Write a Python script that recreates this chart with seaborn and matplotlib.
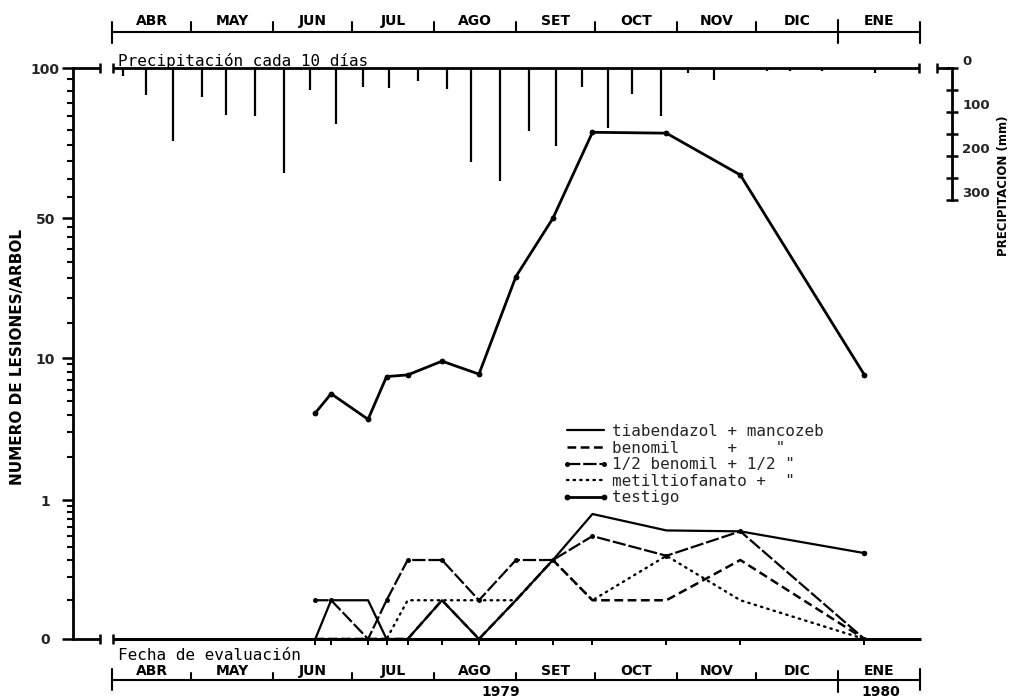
import numpy as np
import pandas as pd
import matplotlib
matplotlib.use("Agg")
import matplotlib.pyplot as plt
import matplotlib.dates as mdates
from matplotlib.lines import Line2D
import seaborn as sns

# ---------------- data ----------------
eval_dates = ['1979-06-17', '1979-06-23', '1979-07-07', '1979-07-14', '1979-07-22',
              '1979-08-04', '1979-08-18', '1979-09-01', '1979-09-15', '1979-09-30',
              '1979-10-28', '1979-11-25', '1980-01-11']
testigo = [4.1, 5.6, 3.7, 7.4, 7.6, 9.5, 7.7, 25.5, 49.8, 74.3, 74.0, 61.0, 7.6]
tiabendazol = [0, 0.1, 0.1, 0, 0, 0.1, 0, 0.1, 0.3, 0.77, 0.56, 0.55, 0.35]
benomil = [0, 0, 0, 0, 0, 0.1, 0, 0.1, 0.3, 0.1, 0.1, 0.3, 0]
medio_benomil = [0.1, 0.1, 0, 0.1, 0.3, 0.3, 0.1, 0.3, 0.3, 0.5, 0.33, 0.55, 0]
metiltiofanato = [0, 0, 0, 0, 0.1, 0.1, 0.1, 0.1, 0.3, 0.1, 0.33, 0.1, 0]

precip_dates = ['1979-04-05', '1979-04-14', '1979-04-24', '1979-05-05', '1979-05-14',
                '1979-05-25', '1979-06-05', '1979-06-15', '1979-06-25', '1979-07-05',
                '1979-07-15', '1979-07-26', '1979-08-06', '1979-08-15', '1979-08-26',
                '1979-09-06', '1979-09-16', '1979-09-26', '1979-10-06', '1979-10-15',
                '1979-10-26', '1979-11-05', '1979-11-15', '1979-12-05', '1979-12-14',
                '1979-12-26', '1980-01-15']
precip_mm = [18, 61, 166, 66, 107, 109, 239, 50, 127, 43, 45, 30, 48, 214, 257,
             143, 177, 43, 136, 59, 109, 11, 27, 7, 7, 7, 11]

month_labels = ['ABR', 'MAY', 'JUN', 'JUL', 'AGO', 'SET', 'OCT', 'NOV', 'DIC', 'ENE']
month_starts = ['1979-04-01', '1979-05-01', '1979-06-01', '1979-07-01', '1979-08-01',
                '1979-09-01', '1979-10-01', '1979-11-01', '1979-12-01', '1980-01-01',
                '1980-02-01']
y_major = [0, 1, 10, 50, 100]
y_minor = [0.1, 0.2, 0.3, 0.4, 0.5, 0.6, 0.7, 0.8, 0.9,
           2, 3, 4, 5, 6, 7, 8, 9,
           15, 20, 25, 30, 35, 40, 45,
           55, 60, 65, 70, 75, 80, 85, 90, 95]
precip_major = [0, 100, 200, 300]
precip_minor = [50, 150, 250]

legend_labels = ['tiabendazol + mancozeb',
                 'benomil     +    "',
                 '1/2 benomil + 1/2 "',
                 'metiltiofanato +  "',
                 'testigo']

# ---------------- style ----------------
sns.set_style("white")
plt.rcParams['font.family'] = ['DejaVu Sans']
MONO = ['DejaVu Sans Mono', 'DejaVu Sans']
K = 'black'

W, H = 1015, 699
fig = plt.figure(figsize=(W / 100, H / 100), dpi=100)


def fbox(x0, y0, x1, y1):
    """pixel box (top-left origin) -> figure fraction rect"""
    return [x0 / W, 1 - y1 / H, (x1 - x0) / W, (y1 - y0) / H]


D0 = mdates.date2num(pd.Timestamp('1979-04-01'))
PXD = 2.64          # pixels per day, Apr 1 at x=112


def px2num(px):
    return D0 + (px - 112) / PXD


# piecewise y scale: 0 | 1 | 10 | 50 | 100 equally spaced-ish
SEG_P = [0, 139, 281, 421, 571]


def fwd(v):
    v = np.asarray(v, dtype=float)
    with np.errstate(all='ignore'):
        vp = np.clip(v, 1e-9, None)
        a = SEG_P[1] * np.log10(1 + 9 * np.clip(v, 0, None))
        lin0 = SEG_P[1] * 9 / np.log(10) * v
        b = SEG_P[1] + (SEG_P[2] - SEG_P[1]) * np.log10(vp)
        c = SEG_P[2] + (SEG_P[3] - SEG_P[2]) * np.log10(vp / 10) / np.log10(5)
        d = SEG_P[3] + (SEG_P[4] - SEG_P[3]) * np.log10(vp / 50) / np.log10(2)
    return np.where(v < 0, lin0, np.where(v <= 1, a, np.where(v <= 10, b, np.where(v <= 50, c, d))))


def inv(p):
    p = np.asarray(p, dtype=float)
    with np.errstate(all='ignore'):
        a = (10 ** (np.clip(p, -50, 2000) / SEG_P[1]) - 1) / 9
        lin0 = p / (SEG_P[1] * 9 / np.log(10))
        b = 10 ** ((p - SEG_P[1]) / (SEG_P[2] - SEG_P[1]))
        c = 10 * 5 ** ((p - SEG_P[2]) / (SEG_P[3] - SEG_P[2]))
        d = 50 * 2 ** ((p - SEG_P[3]) / (SEG_P[4] - SEG_P[3]))
    return np.where(p < 0, lin0, np.where(p <= SEG_P[1], a, np.where(p <= SEG_P[2], b,
                    np.where(p <= SEG_P[3], c, d))))


# ---------------- main axes ----------------
AX_L, AX_R, AX_T, AX_B = 73, 921, 68, 639
ax = fig.add_axes(fbox(AX_L, AX_T, AX_R, AX_B))
ax.set_facecolor('none')

DOT = (0, (0.6, 2.2))
x_eval = pd.to_datetime(pd.Series(eval_dates))
series = [
    (tiabendazol, dict(lw=1.6, linestyle='-', marker='o', markersize=4, markevery=[12])),
    (benomil, dict(lw=1.8, linestyle=(0, (3.5, 1.8)))),
    (medio_benomil, dict(lw=1.6, linestyle=(0, (6, 1.3)), marker='o', markersize=3.6)),
    (metiltiofanato, dict(lw=1.7, linestyle=DOT, dash_capstyle='round')),
    (testigo, dict(lw=2.0, linestyle='-', marker='o', markersize=4.2)),
]
for vals, kw in series:
    sns.lineplot(x=x_eval, y=vals, ax=ax, color=K, legend=False, errorbar=None,
                 estimator=None, sort=False, markeredgewidth=0, **kw)

ax.set_yscale('function', functions=(fwd, inv))
ax.set_xlim(px2num(AX_L), px2num(AX_R))
ax.set_ylim(0, 100)
ax.set_yticks(y_major)
ax.set_yticklabels([str(v) for v in y_major], fontweight='bold', fontsize=10)
ax.set_yticks(y_minor, minor=True)
ax.set_xticks(mdates.date2num(x_eval))
ax.set_xticklabels([])
ax.set_xlabel('')
ax.set_ylabel('')
for s in ['top', 'right', 'bottom']:
    ax.spines[s].set_visible(False)
ax.spines['left'].set_linewidth(2.0)
ax.spines['left'].set_color(K)
ax.tick_params(axis='y', which='major', direction='out', length=8, width=1.8,
               color=K, pad=12, left=True)
ax.tick_params(axis='y', which='minor', direction='out', length=4, width=1.5,
               color=K, left=True)
for t in ax.get_yticklabels():
    t.set_horizontalalignment('center')
ax.tick_params(axis='x', which='major', direction='out', length=4, width=1.4,
               color=K, bottom=True)
ax.grid(False)


def fxa(px):
    return (px - AX_L) / (AX_R - AX_L)


dy = 5 / (AX_B - AX_T)
lkw = dict(transform=ax.transAxes, clip_on=False, color=K, solid_capstyle='butt')
# zero line with break
ax.plot([0, fxa(100)], [0, 0], lw=2.0, **lkw)
ax.plot([fxa(100)] * 2, [-dy, dy], lw=1.8, **lkw)
ax.plot([fxa(113)] * 2, [-dy, dy], lw=1.8, **lkw)
ax.plot([fxa(113), 1], [0, 0], lw=2.2, **lkw)
# 100 line stub with break
ax.plot([0, fxa(100)], [1, 1], lw=2.0, **lkw)
ax.plot([fxa(100)] * 2, [1 - dy, 1 + dy], lw=1.8, **lkw)

# ---------------- precipitation axes ----------------
P_L, P_R, P_T, P_B = 113, 952, 68, 200
ax2 = fig.add_axes(fbox(P_L, P_T, P_R, P_B))
ax2.set_facecolor('none')
ax2.vlines(mdates.date2num(pd.to_datetime(pd.Series(precip_dates))), 0, precip_mm,
           color=K, lw=1.6)
ax2.set_xlim(px2num(P_L), px2num(P_R))
ax2.set_ylim(300, 0)
for s in ['top', 'left', 'bottom']:
    ax2.spines[s].set_visible(False)
ax2.spines['right'].set_linewidth(2.0)
ax2.spines['right'].set_color(K)
ax2.set_xticks([])
ax2.yaxis.tick_right()
ax2.set_yticks(precip_major)
ax2.set_yticklabels([str(v) for v in precip_major], fontweight='bold', fontsize=9.5)
ax2.set_yticks(precip_minor, minor=True)
ax2.tick_params(axis='y', which='both', direction='inout', length=9, width=1.8,
                color=K, right=True, left=False, labelright=True, labelleft=False, pad=3)
for t in ax2.get_yticklabels():
    t.set_verticalalignment('bottom')
ax2.grid(False)


def gxa(px):
    return (px - P_L) / (P_R - P_L)


dy2 = 5 / (P_B - P_T)
lkw2 = dict(transform=ax2.transAxes, clip_on=False, color=K, solid_capstyle='butt')
ax2.plot([0, gxa(919)], [1, 1], lw=2.0, **lkw2)
ax2.plot([0, 0], [1 - dy2, 1 + dy2], lw=1.8, **lkw2)
ax2.plot([gxa(919)] * 2, [1 - dy2, 1 + dy2], lw=1.8, **lkw2)
ax2.plot([gxa(937)] * 2, [1 - dy2, 1 + dy2], lw=1.8, **lkw2)
ax2.plot([gxa(937), 1], [1, 1], lw=2.0, **lkw2)


# ---------------- month bands ----------------
def month_band(y0, y1, y_line, y_lab, sep_top, cap_top, cap_bot, jan_top, jan_bot):
    b = fig.add_axes(fbox(AX_L, y0, P_R, y1))
    b.set_xlim(px2num(AX_L), px2num(P_R))
    b.set_ylim(y1, y0)   # pixel units, downwards
    b.axis('off')
    ms = mdates.date2num(pd.to_datetime(pd.Series(month_starts)))
    b.plot([ms[0], ms[-1]], [y_line, y_line], color=K, lw=1.5, solid_capstyle='butt')
    for i, m in enumerate(ms):
        if i in (0, len(ms) - 1):
            b.plot([m, m], [cap_top, cap_bot], color=K, lw=1.5)
        elif month_starts[i] == '1980-01-01':
            b.plot([m, m], [jan_top, jan_bot], color=K, lw=1.5)
        else:
            b.plot([m, m], [sep_top, y_line], color=K, lw=1.5)
    for i, lab in enumerate(month_labels):
        b.text((ms[i] + ms[i + 1]) / 2, y_lab, lab, ha='center', va='center',
               fontsize=10, fontweight='bold', color=K)
    return b


month_band(8, 46, 32, 21, 22, 22, 43, 20, 43)
bb = month_band(662, 699, 680, 671, 673, 669, 690, 671, 692)

# ---------------- texts ----------------
fig.text(118 / W, 1 - 66 / H, 'Precipitación cada 10 días', family=MONO,
         fontsize=11.5, ha='left', va='baseline', color=K)
fig.text(118 / W, 1 - 655 / H, 'Fecha de evaluación', family=MONO,
         fontsize=11.5, ha='left', va='center', color=K)
fig.text(501 / W, 1 - 692 / H, '1979', fontsize=10, fontweight='bold',
         ha='center', va='center', color=K)
fig.text(881 / W, 1 - 692 / H, '1980', fontsize=10, fontweight='bold',
         ha='center', va='center', color=K)
fig.text(18 / W, 1 - 357 / H, 'NUMERO DE LESIONES/ARBOL', rotation=90,
         fontsize=11, fontweight='bold', ha='center', va='center', color=K)
fig.text(1003 / W, 1 - 186 / H, 'PRECIPITACION (mm)', rotation=90,
         fontsize=8.5, fontweight='bold', ha='center', va='center', color=K)

# ---------------- legend ----------------
handles = [
    Line2D([], [], color=K, lw=1.6),
    Line2D([], [], color=K, lw=1.8, linestyle=(0, (3.5, 1.8))),
    Line2D([], [], color=K, lw=1.6, linestyle=(0, (6, 1.3)), marker='o', markersize=3.6,
           markeredgewidth=0),
    Line2D([], [], color=K, lw=1.7, linestyle=DOT, dash_capstyle='round'),
    Line2D([], [], color=K, lw=2.0, marker='o', markersize=4.2, markeredgewidth=0),
]
leg = fig.legend(handles, legend_labels, loc='upper left',
                 bbox_to_anchor=(562 / W, 1 - 424 / H), bbox_transform=fig.transFigure,
                 frameon=False, borderpad=0, borderaxespad=0, handlelength=2.9,
                 handletextpad=0.25, labelspacing=0.1, numpoints=2,
                 prop={'family': MONO, 'size': 11.5})

fig.savefig('out.png', dpi=100)
